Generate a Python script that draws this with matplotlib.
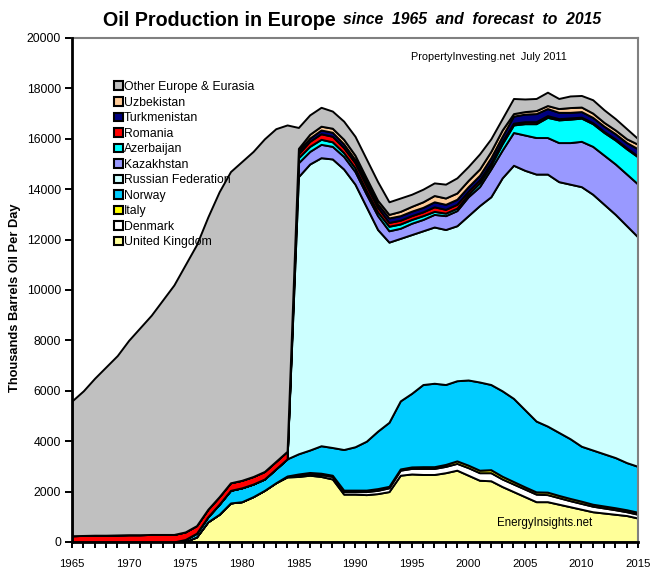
import numpy as np
import matplotlib
matplotlib.use("Agg")
import matplotlib.pyplot as plt
from matplotlib.patches import Patch

plt.rcParams['font.family'] = ['Liberation Sans', 'DejaVu Sans']

years = list(range(1965, 2016))

# top of each band (cumulative, thousands b/d)
uk_top = [0]*10 + [20, 200, 800, 1100, 1550, 1600, 1800, 2050, 2350, 2580,
                   2600, 2650, 2600, 2500, 1900, 1900, 1880, 1920, 2000, 2650,
                   2700, 2680, 2680, 2750, 2850, 2650, 2450, 2430, 2200, 2000,
                   1800, 1600, 1600, 1500, 1400, 1300, 1200, 1150, 1100, 1050, 950]
denmark_top = [0]*10 + [20, 200, 800, 1100, 1550, 1600, 1800, 2050, 2350, 2600,
                        2650, 2720, 2680, 2600, 2000, 2000, 2000, 2050, 2150, 2850,
                        2920, 2920, 2920, 3000, 3120, 2950, 2750, 2750, 2500, 2300,
                        2100, 1900, 1880, 1760, 1640, 1530, 1420, 1350, 1280, 1200, 1100]
italy_top = [0]*10 + [20, 200, 800, 1100, 1550, 1600, 1800, 2050, 2350, 2620,
                      2700, 2760, 2730, 2650, 2060, 2060, 2060, 2120, 2210, 2900,
                      2980, 2990, 2990, 3080, 3220, 3050, 2850, 2870, 2610, 2400,
                      2190, 1990, 1980, 1850, 1730, 1620, 1500, 1430, 1360, 1280, 1180]
norway_top = [0]*9 + [5, 100, 350, 1000, 1500, 2050, 2150, 2300, 2500, 2900, 3300,
                      3500, 3650, 3820, 3750, 3670, 3780, 4000, 4400, 4750, 5600,
                      5900, 6250, 6300, 6250, 6400, 6430, 6350, 6250, 6000, 5700,
                      5250, 4800, 4600, 4350, 4100, 3800, 3650, 3500, 3350, 3150, 3000]
# no separate Soviet states before 1985, those bands have zero height there
russia_top = norway_top[:20] + [14500, 15000, 15250, 15200, 14800, 14200, 13300, 12400, 11900, 12050,
                                12200, 12350, 12500, 12400, 12550, 12950, 13350, 13700, 14450, 14950,
                                14750, 14600, 14600, 14300, 14200, 14100, 13800, 13400, 13000, 12550, 12100]
kazakhstan_top = norway_top[:20] + [15050, 15500, 15780, 15700, 15300, 14700, 13800, 12950, 12350, 12450,
                                    12650, 12800, 13000, 12950, 13150, 13700, 14100, 14800, 15550, 16250,
                                    16150, 16050, 16050, 15850, 15850, 15900, 15700, 15350, 15000, 14600, 14200]
azerbaijan_top = norway_top[:20] + [15250, 15700, 15980, 15880, 15450, 14850, 13950, 13100, 12530, 12620,
                                    12800, 12950, 13120, 13050, 13250, 13800, 14250, 14950, 15800, 16550,
                                    16600, 16600, 16850, 16750, 16780, 16820, 16600, 16250, 15950, 15600, 15280]
romania_top = [250, 260, 270, 270, 280, 290, 290, 300, 300, 300,
               400, 650, 1300, 1800, 2350, 2450, 2600, 2800, 3200, 3600,
               15400, 15900, 16200, 16100, 15650, 15050, 14150, 13280, 12680, 12770,
               12950, 13100, 13300, 13200, 13400, 13920, 14370, 15050, 15900, 16620,
               16680, 16680, 16920, 16800, 16830, 16860, 16640, 16290, 15990, 15640, 15310]
turkmenistan_top = romania_top[:20] + [15520, 16030, 16350, 16260, 15800, 15180, 14280, 13420, 12860, 12950,
                                       13130, 13280, 13500, 13400, 13600, 14100, 14550, 15250, 16100, 16900,
                                       16980, 17000, 17200, 17050, 17050, 17080, 16850, 16500, 16200, 15850, 15600]
uzbekistan_top = romania_top[:20] + [15620, 16180, 16500, 16420, 15980, 15350, 14450, 13560, 13000, 13120,
                                     13320, 13500, 13750, 13650, 13850, 14350, 14800, 15500, 16350, 17000,
                                     17080, 17120, 17320, 17200, 17240, 17260, 17020, 16650, 16350, 16000, 15780]
total_top = [5600, 6000, 6500, 6950, 7400, 8000, 8500, 9000, 9600, 10200,
             11000, 11800, 12900, 13900, 14700, 15100, 15500, 16000, 16400, 16550,
             16450, 16950, 17250, 17100, 16700, 16100, 15200, 14300, 13500, 13650,
             13800, 14000, 14250, 14200, 14450, 14900, 15400, 16000, 16800, 17600,
             17580, 17600, 17850, 17600, 17700, 17720, 17550, 17150, 16800, 16400, 16000]

labels = ["United Kingdom", "Denmark", "Italy", "Norway", "Russian Federation", "Kazakhstan",
          "Azerbaijan", "Romania", "Turkmenistan", "Uzbekistan", "Other Europe & Eurasia"]
colors = ["#FFFF99", "#FFFFFF", "#FFFF00", "#00CCFF", "#CCFFFF", "#9999FF",
          "#00FFFF", "#FF0000", "#000080", "#FFCC99", "#C0C0C0"]

tops = np.array([uk_top, denmark_top, italy_top, norway_top, russia_top, kazakhstan_top,
                 azerbaijan_top, romania_top, turkmenistan_top, uzbekistan_top, total_top])
bands = np.diff(tops, axis=0, prepend=0)

W, H = 668, 583
fig = plt.figure(figsize=(W/100, H/100), dpi=100)
ax = fig.add_axes([72/W, 1-542/H, (638-72)/W, (542-38)/H])

ax.stackplot(years, bands, colors=colors, edgecolor="black", linewidth=1.4)
ax.set_xlim(1965, 2015)
ax.set_ylim(0, 20000)

ax.set_xticks(range(1965, 2016, 5))
ax.set_xticks(range(1965, 2016), minor=True)
ax.set_yticks(range(0, 20001, 2000))
ax.tick_params(axis="both", which="both", direction="out", width=1.4, color="black")
ax.tick_params(axis="x", which="major", length=4, pad=8, labelsize=8.2)
ax.tick_params(axis="x", which="minor", length=4)
ax.tick_params(axis="y", length=5, pad=3, labelsize=8.8)

for side in ["left", "bottom"]:
    ax.spines[side].set_linewidth(2)
    ax.spines[side].set_zorder(5)
for side in ["top", "right"]:
    ax.spines[side].set_color("#808080")
    ax.spines[side].set_linewidth(1.5)

fig.text(15/W, 1-298/H, "Thousands Barrels Oil Per Day", fontsize=9.25, fontweight="bold",
         rotation=90, va="center", ha="center")

fig.text(103/W, 1-20/H, "Oil Production in Europe", fontsize=14.2, fontweight="bold", va="center")
fig.text(343/W, 1-20/H, "since  1965  and  forecast  to  2015", fontsize=11.3, fontweight="bold",
         style="italic", va="center")

fig.text(411/W, 1-57/H, "PropertyInvesting.net  July 2011", fontsize=7.8, va="center")
fig.text(497/W, 1-523/H, "EnergyInsights.net", fontsize=8.3, va="center")

handles = [Patch(facecolor=c, edgecolor="black", linewidth=1.5) for c in colors]
ax.legend(handles[::-1], labels[::-1], loc="upper left", bbox_to_anchor=(42/566, 1-43/504),
          frameon=False, fontsize=8.8, handlelength=0.7, handleheight=0.7,
          handletextpad=0.08, labelspacing=0.29, borderpad=0, borderaxespad=0)

fig.savefig("out.png", dpi=100)
